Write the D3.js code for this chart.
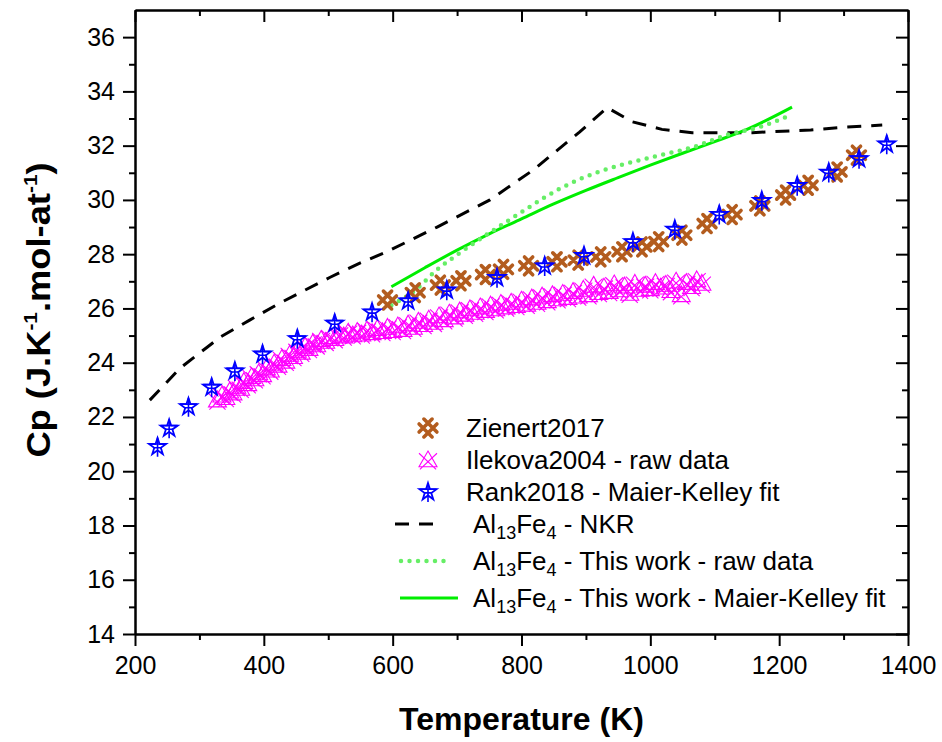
<!DOCTYPE html>
<html>
<head>
<meta charset="utf-8">
<script src="https://cdn.jsdelivr.net/npm/d3@7"></script>
<style>
  body { margin: 0; background: #fff; }
  svg { display: block; font-family: "Liberation Sans", Arial, sans-serif; }
  .axis path, .axis line { stroke: #000; stroke-width: 2; }
  .axis text { font-size: 25px; fill: #000; }
</style>
</head>
<body>
<svg></svg>
<script>
// Zienert2017
const zienertT = [592, 635, 674, 706, 744, 772, 811, 855, 888, 923, 956, 987, 1013, 1049, 1088, 1127, 1170, 1210, 1245, 1290, 1320];
const zienertCp = [26.31, 26.58, 26.86, 27.02, 27.25, 27.44, 27.57, 27.72, 27.78, 27.90, 28.09, 28.27, 28.46, 28.70, 29.13, 29.46, 29.78, 30.18, 30.54, 31.03, 31.65];

// Ilekova2004 - raw data
const ilekovaT = [328, 335, 341, 347, 352, 358, 364, 369, 375, 381, 386, 392, 398, 404, 410, 416, 422, 428, 434, 440,
  446, 452, 458, 464, 470, 476, 482, 489, 496, 503, 510, 517, 524, 531, 538, 545, 552, 560, 568, 576,
  584, 592, 600, 608, 616, 624, 632, 640, 648, 656, 664, 672, 680, 688, 696, 704, 712, 720, 728, 736,
  744, 752, 760, 768, 776, 784, 792, 800, 808, 816, 824, 832, 840, 848, 856, 864, 872, 880, 888, 896,
  904, 912, 920, 928, 936, 944, 952, 960, 968, 976, 984, 992, 1000, 1008, 1016, 1024, 1032, 1040, 1048, 1056,
  1064, 1072, 1080];
const ilekovaCp = [22.62, 22.80, 22.71, 22.95, 22.88, 23.12, 23.05, 23.30, 23.22, 23.48, 23.40, 23.62, 23.55, 23.80, 23.72, 23.98, 23.90, 24.15, 24.05, 24.30,
  24.22, 24.45, 24.38, 24.60, 24.52, 24.72, 24.65, 24.85, 24.78, 24.95, 24.88, 25.05, 24.98, 25.12, 25.02, 25.15, 25.05, 25.20, 25.10, 25.25,
  25.14, 25.30, 25.18, 25.35, 25.22, 25.42, 25.30, 25.52, 25.40, 25.60, 25.48, 25.72, 25.58, 25.82, 25.68, 25.90, 25.78, 25.98, 25.85, 26.05,
  25.92, 26.12, 25.98, 26.18, 26.05, 26.22, 26.10, 26.30, 26.15, 26.38, 26.22, 26.45, 26.28, 26.50, 26.35, 26.55, 26.40, 26.62, 26.45, 26.70,
  26.50, 26.85, 26.58, 26.78, 26.62, 26.90, 26.68, 26.82, 26.55, 26.92, 26.70, 26.85, 26.72, 26.95, 26.78, 26.88, 26.65, 27.00, 26.50, 26.95,
  26.80, 27.05, 26.92];

// Rank2018 - Maier-Kelley fit
const rankT = [235, 253, 283, 319, 355, 398, 452, 510, 568, 624, 684, 762, 836, 897, 973, 1038, 1107, 1173, 1228, 1277, 1324, 1367];
const rankCp = [20.90, 21.58, 22.37, 23.09, 23.69, 24.31, 24.88, 25.45, 25.86, 26.27, 26.67, 27.13, 27.56, 27.94, 28.45, 28.91, 29.46, 29.97, 30.52, 31.01, 31.51, 32.05];

// Al13Fe4 - NKR
const nkrT = [223, 270, 312, 332, 378, 425, 503, 549, 590, 669, 751, 818, 890, 933, 972, 1018, 1065, 1158, 1249, 1296, 1360];
const nkrCp = [22.62, 23.80, 24.57, 24.94, 25.57, 26.20, 27.15, 27.67, 28.08, 29.00, 30.00, 31.10, 32.50, 33.40, 32.88, 32.60, 32.48, 32.48, 32.58, 32.67, 32.76];

// Al13Fe4 - This work - raw data
const rawT = [598, 635, 668, 699, 741, 777, 813, 860, 912, 963, 1015, 1067, 1118, 1170, 1214];
const rawCp = [26.12, 26.67, 27.41, 27.96, 28.64, 29.20, 29.75, 30.42, 30.97, 31.34, 31.65, 31.95, 32.39, 32.69, 33.09];

// Al13Fe4 - This work - Maier-Kelley fit
const fitT = [598, 650, 700, 750, 800, 850, 900, 950, 1000, 1050, 1100, 1150, 1220];
const fitCp = [26.80, 27.50, 28.15, 28.75, 29.30, 29.85, 30.35, 30.82, 31.28, 31.72, 32.15, 32.60, 33.42];

// Axis ticks
const xMajorTicks = [200, 400, 600, 800, 1000, 1200, 1400];
const xMinorTicks = [300, 500, 700, 900, 1100, 1300];
const yMajorTicks = [14, 16, 18, 20, 22, 24, 26, 28, 30, 32, 34, 36];
const yMinorTicks = [15, 17, 19, 21, 23, 25, 27, 29, 31, 33, 35];

const zip = (xs, ys) => xs.map((x, i) => ({ x, y: ys[i] }));

const colors = {
  zienert: "#b35c1e",
  ilekova: "#ff00ff",
  rank: "#0000ff",
  nkr: "#000000",
  raw: "#66ee66",
  fit: "#00ee00"
};

// Plot sizes
const margin = { l: 135, r: 34, t: 10, b: 108 };
const width = 942 - margin.l - margin.r;
const height = 742 - margin.t - margin.b;

const root = d3.select("svg")
  .attr("width", 942)
  .attr("height", 742);

const svg = root.append("g")
  .attr("transform", `translate(${margin.l}, ${margin.t})`);

const xScale = d3.scaleLinear().domain([200, 1400]).range([0, width]);
const yScale = d3.scaleLinear().domain([14, 37]).range([height, 0]);

// Markers
function drawHash(g, color) {
  const a = 2.4, L = 6.5;
  const p = `M${-L + a},${-L - a}L${L + a},${L - a}M${-L - a},${-L + a}L${L - a},${L + a}` +
            `M${L - a},${-L - a}L${-L - a},${L - a}M${L + a},${-L + a}L${-L + a},${L + a}`;
  g.append("path").attr("d", p).attr("stroke", color).attr("stroke-width", 3.6)
    .attr("stroke-linecap", "round").attr("fill", "none");
}

function drawTriX(g, color) {
  const r = 9;
  g.append("path")
    .attr("d", `M0,${-r}L${r},${r * 0.75}L${-r},${r * 0.75}Z M${-r},${-r * 0.75}L${r * 0.9},${r * 1.05}M${r},${-r * 0.75}L${-r * 0.9},${r * 1.05}`)
    .attr("stroke", color).attr("stroke-width", 1.1).attr("fill", "none");
}

function drawStar(g, color) {
  const r = 9;
  g.append("path")
    .attr("d", d3.symbol(d3.symbolStar, r * r / 0.8908130915292852)())
    .attr("stroke", color).attr("stroke-width", 1.8).attr("fill", "none");
  g.append("path")
    .attr("d", `M${-r * 0.95},${-r * 0.31}L${r * 0.95},${-r * 0.31}M0,${-r}L0,${r * 1.1}M${-r * 0.45},${r * 0.1}L${r * 0.45},${r * 0.1}`)
    .attr("stroke", color).attr("stroke-width", 1.6);
}

const line = d3.line().x(d => xScale(d.x)).y(d => yScale(d.y));
const smooth = d3.line().x(d => xScale(d.x)).y(d => yScale(d.y)).curve(d3.curveMonotoneX);

// Render lines
svg.append("path")
  .datum(zip(nkrT, nkrCp))
  .attr("d", line)
  .attr("fill", "none")
  .attr("stroke", colors.nkr)
  .attr("stroke-width", 3)
  .attr("stroke-dasharray", "14,10");

svg.append("path")
  .datum(zip(fitT, fitCp))
  .attr("d", smooth)
  .attr("fill", "none")
  .attr("stroke", colors.fit)
  .attr("stroke-width", 3);

svg.append("path")
  .datum(zip(rawT, rawCp))
  .attr("d", smooth)
  .attr("fill", "none")
  .attr("stroke", colors.raw)
  .attr("stroke-width", 4.5)
  .attr("stroke-linecap", "round")
  .attr("stroke-dasharray", "0,8.5");

// Render scatter
svg.append("g").selectAll("g")
  .data(zip(ilekovaT, ilekovaCp))
  .join("g")
  .attr("transform", d => `translate(${xScale(d.x)}, ${yScale(d.y)})`)
  .each(function () { drawTriX(d3.select(this), colors.ilekova); });

svg.append("g").selectAll("g")
  .data(zip(zienertT, zienertCp))
  .join("g")
  .attr("transform", d => `translate(${xScale(d.x)}, ${yScale(d.y)})`)
  .each(function () { drawHash(d3.select(this), colors.zienert); });

svg.append("g").selectAll("g")
  .data(zip(rankT, rankCp))
  .join("g")
  .attr("transform", d => `translate(${xScale(d.x)}, ${yScale(d.y)})`)
  .each(function () { drawStar(d3.select(this), colors.rank); });

// Axes
svg.append("g")
  .attr("class", "axis")
  .attr("transform", `translate(0, ${height})`)
  .call(d3.axisBottom(xScale).tickValues(xMajorTicks).tickSize(12).tickSizeOuter(0).tickPadding(10).tickFormat(d3.format("d")));
svg.append("g")
  .attr("class", "axis")
  .attr("transform", `translate(0, ${height})`)
  .call(d3.axisBottom(xScale).tickValues(xMinorTicks).tickSize(6).tickSizeOuter(0).tickFormat(""));
svg.append("g")
  .attr("class", "axis")
  .call(d3.axisTop(xScale).tickValues(xMajorTicks).tickSize(-12).tickSizeOuter(0).tickFormat(""));
svg.append("g")
  .attr("class", "axis")
  .call(d3.axisTop(xScale).tickValues(xMinorTicks).tickSize(-6).tickSizeOuter(0).tickFormat(""));

svg.append("g")
  .attr("class", "axis")
  .call(d3.axisLeft(yScale).tickValues(yMajorTicks).tickSize(12).tickSizeOuter(0).tickPadding(8));
svg.append("g")
  .attr("class", "axis")
  .call(d3.axisLeft(yScale).tickValues(yMinorTicks).tickSize(6).tickSizeOuter(0).tickFormat(""));
svg.append("g")
  .attr("class", "axis")
  .attr("transform", `translate(${width}, 0)`)
  .call(d3.axisRight(yScale).tickValues(yMajorTicks).tickSize(-12).tickSizeOuter(0).tickFormat(""));
svg.append("g")
  .attr("class", "axis")
  .attr("transform", `translate(${width}, 0)`)
  .call(d3.axisRight(yScale).tickValues(yMinorTicks).tickSize(-6).tickSizeOuter(0).tickFormat(""));

// Axis titles
root.append("text")
  .attr("x", margin.l + width / 2)
  .attr("y", 730)
  .attr("text-anchor", "middle")
  .attr("font-size", 32)
  .attr("font-weight", "bold")
  .text("Temperature (K)");

const yTitle = root.append("text")
  .attr("transform", `translate(50, 310) rotate(-90) scale(1.1, 1)`)
  .attr("text-anchor", "middle")
  .attr("font-size", 33)
  .attr("font-weight", "bold");
yTitle.append("tspan").text("Cp (J.K");
yTitle.append("tspan").attr("font-size", 19).attr("dy", -13).text("-1");
yTitle.append("tspan").attr("dy", 13).text(".mol-at");
yTitle.append("tspan").attr("font-size", 19).attr("dy", -13).text("-1");
yTitle.append("tspan").attr("dy", 13).text(")");

// Legend
const legendRows = [428, 460, 492, 524, 561, 598];
const legend = root.append("g").attr("font-size", 26);

const markerItems = [
  { label: "Zienert2017", draw: drawHash, color: colors.zienert },
  { label: "Ilekova2004 - raw data", draw: drawTriX, color: colors.ilekova },
  { label: "Rank2018 - Maier-Kelley fit", draw: drawStar, color: colors.rank }
];
markerItems.forEach((d, i) => {
  const g = legend.append("g").attr("transform", `translate(428, ${legendRows[i]})`);
  d.draw(g, d.color);
  legend.append("text").attr("x", 466).attr("y", legendRows[i] + 9).text(d.label);
});

const lineItems = [
  { suffix: " - NKR", color: colors.nkr, width: 3, dash: "14,10", x1: 395, x2: 443, cap: "butt" },
  { suffix: " - This work - raw data", color: colors.raw, width: 4.5, dash: "0,8.5", x1: 401, x2: 451, cap: "round" },
  { suffix: " - This work - Maier-Kelley fit", color: colors.fit, width: 3, dash: null, x1: 400, x2: 458, cap: "butt" }
];
lineItems.forEach((d, i) => {
  const y = legendRows[i + 3];
  legend.append("line")
    .attr("x1", d.x1).attr("x2", d.x2).attr("y1", y).attr("y2", y)
    .attr("stroke", d.color).attr("stroke-width", d.width)
    .attr("stroke-linecap", d.cap)
    .attr("stroke-dasharray", d.dash);
  const t = legend.append("text").attr("x", 473).attr("y", y + 9);
  t.append("tspan").text("Al");
  t.append("tspan").attr("font-size", 18).attr("dy", 6).text("13");
  t.append("tspan").attr("dy", -6).text("Fe");
  t.append("tspan").attr("font-size", 18).attr("dy", 6).text("4");
  t.append("tspan").attr("dy", -6).text(d.suffix);
});
</script>
</body>
</html>
